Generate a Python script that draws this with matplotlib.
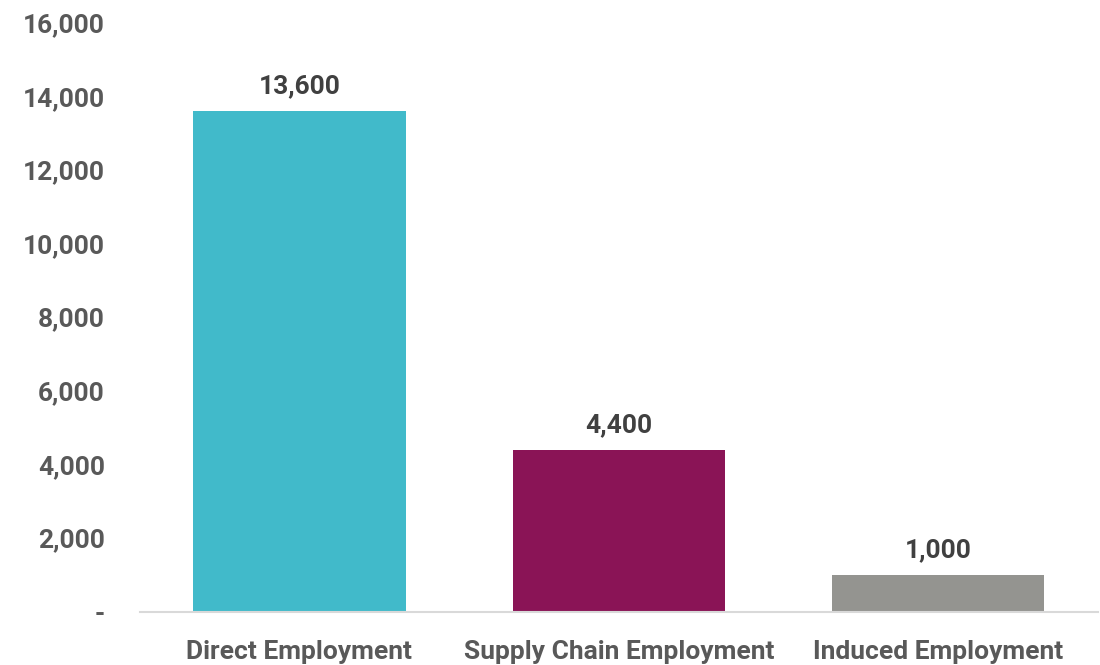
import matplotlib.pyplot as plt
from matplotlib.ticker import FuncFormatter

categories = ['Direct Employment', 'Supply Chain Employment', 'Induced Employment']
values = [13600, 4400, 1000]
colors = ['#41BACA', '#8A1456', '#949490']
yticks = [0, 2000, 4000, 6000, 8000, 10000, 12000, 14000, 16000]

plt.rcParams['font.family'] = ['Roboto', 'DejaVu Sans']
plt.rcParams['font.weight'] = 'bold'

fig = plt.figure(figsize=(11, 6.65), dpi=100)
ax = fig.add_axes([0.127, 0.080, 0.871, 0.886])

x = range(len(categories))
bars = ax.bar(x, values, width=0.665, color=colors, zorder=2)

# value labels above bars
for b, v in zip(bars, values):
    ax.annotate(f'{v:,}', (b.get_x() + b.get_width() / 2, v),
                xytext=(0, 9), textcoords='offset points',
                ha='center', va='bottom', fontsize=19, fontweight='bold',
                color='#404040')

ax.set_xlim(-0.5, 2.5)
ax.set_ylim(0, 16000)
ax.set_yticks(yticks)
ax.yaxis.set_major_formatter(FuncFormatter(lambda v, p: '-' if v == 0 else f'{int(v):,}'))
ax.set_xticks(list(x))
ax.set_xticklabels(categories)

ax.tick_params(axis='y', length=0, pad=25, labelsize=19, labelcolor='#595959')
ax.tick_params(axis='x', length=0, pad=20, labelsize=19, labelcolor='#595959')
for lab in ax.get_xticklabels() + ax.get_yticklabels():
    lab.set_fontweight('bold')

for s in ['top', 'right', 'left']:
    ax.spines[s].set_visible(False)
ax.spines['bottom'].set_color('#D9D9D9')
ax.spines['bottom'].set_linewidth(1.5)

fig.savefig('out.png', dpi=100)
